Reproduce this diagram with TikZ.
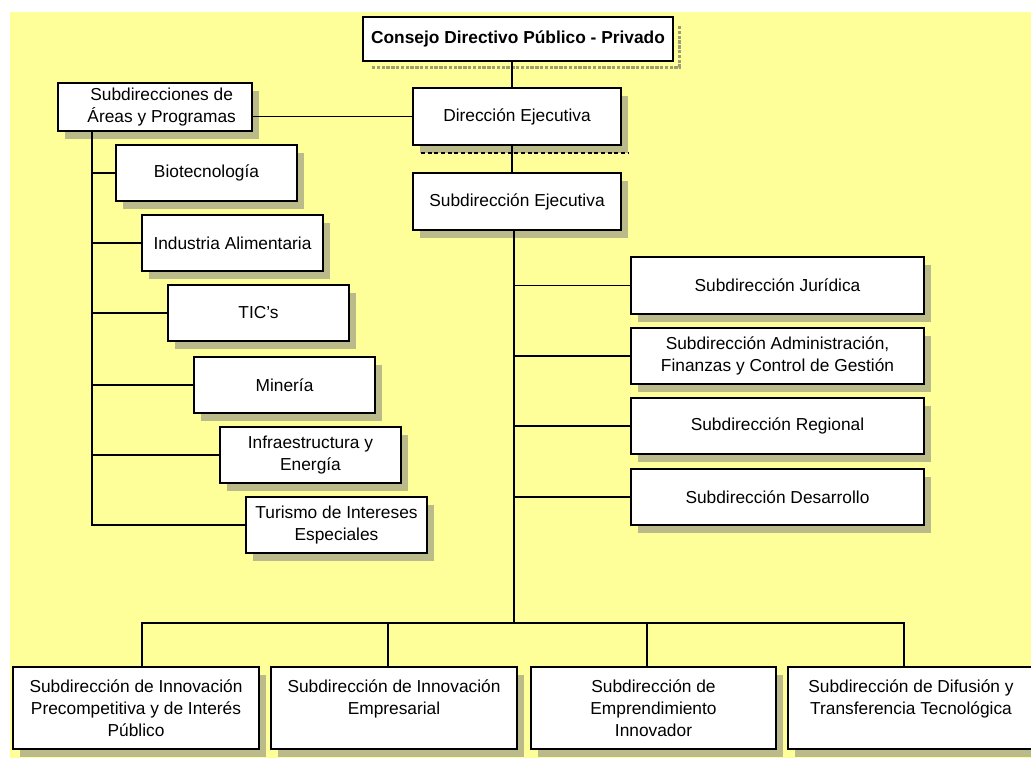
\documentclass[tikz,border=0pt]{standalone}
\usepackage{fontspec}
\setmainfont{Liberation Sans}
\usetikzlibrary{shadows}
\definecolor{bgyellow}{RGB}{255,255,153}
\definecolor{shadegray}{RGB}{186,186,138}
% \orgbox{name}{left}{top}{right}{bottom}{style}{text}
\newcommand\orgbox[7]{%
  \node[#6,minimum width={(#4-#2)*0.75pt},minimum height={(#5-#3)*0.75pt}]
    (#1) at ({(#2+#4)/2},{(#3+#5)/2}) {#7};}
\begin{document}
\begin{tikzpicture}[x=0.75pt,y=-0.75pt,
  every node/.style={font=\fontsize{13}{16.5}\selectfont},
  box/.style={draw=black,line width=0.8pt,fill=white,inner sep=0pt,align=center,
    general shadow={fill=shadegray,shadow xshift=5.25pt,shadow yshift=-6pt}},
  plainbox/.style={draw=black,line width=2.2pt,fill=white,inner sep=0pt,align=center,
    font=\fontsize{13}{16.5}\selectfont\bfseries},
  link/.style={line width=1.1pt,line cap=rect}]
\clip (0,0) rectangle (1031,758);
\fill[white] (0,0) rectangle (1031,758);
\fill[bgyellow] (10,12) rectangle (1031,758);

% top of the hierarchy
\draw[shadegray!85!black,line width=2.6pt,densely dotted] (372,67.5) -- (679.5,67.5) -- (679.5,26);
\orgbox{cons}{363}{17}{673}{61}{plainbox}{Consejo Directivo Público - Privado}
\orgbox{dir}{413}{88}{621}{145}{box}{Dirección Ejecutiva}
\draw[densely dashed,line width=0.8pt] (421,153) -- (628,153);
\orgbox{subej}{413}{173}{621}{230}{box}{Subdirección Ejecutiva}

% areas and programmes
\orgbox{areas}{58}{83}{252}{131}{box}{\hspace*{10pt}Subdirecciones de\\\hspace*{10pt}Áreas y Programas}
\orgbox{bio}{116}{145}{297}{201}{box}{Biotecnología}
\orgbox{ind}{142}{215}{323}{271}{box}{Industria Alimentaria}
\orgbox{tic}{168}{285}{349}{341}{box}{TIC's}
\orgbox{min}{194}{357}{375}{413}{box}{Minería}
\orgbox{inf}{220}{427}{401}{483}{box}{Infraestructura y\\Energía}
\orgbox{tur}{246}{497}{427}{553}{box}{Turismo de Intereses\\Especiales}

% support units
\orgbox{jur}{631}{257}{924}{314}{box}{Subdirección Jurídica}
\orgbox{adm}{631}{328}{924}{384}{box}{Subdirección Administración,\\Finanzas y Control de Gestión}
\orgbox{reg}{631}{398}{924}{454}{box}{Subdirección Regional}
\orgbox{des}{631}{469}{924}{525}{box}{Subdirección Desarrollo}

% operational units
\orgbox{bA}{13}{667}{259}{749}{box}{Subdirección de Innovación\\Precompetitiva y de Interés\\Público}
\orgbox{bB}{271}{667}{517}{749}{box}{Subdirección de Innovación\\Empresarial\\\vphantom{P}}
\orgbox{bC}{531}{667}{776}{749}{box}{Subdirección de\\Emprendimiento\\Innovador}
\orgbox{bD}{788}{667}{1034}{749}{box}{Subdirección de Difusión y\\Transferencia Tecnológica\\\vphantom{P}}

% spines and bus
\coordinate (top) at (512,0);
\coordinate (lsp) at (92,0);
\coordinate (rsp) at (514,0);
\coordinate (d1) at (142,623);
\coordinate (d2) at (388,623);
\coordinate (d3) at (647,623);
\coordinate (d4) at (904,623);

\draw[link] (top |- cons.south) -- (top |- dir.north);
\draw[link] (top |- dir.south) -- (top |- subej.north);
\draw[link] (dir.west) -- (dir.west -| areas.east);
\draw[link] (lsp |- areas.south) -- (lsp |- tur.west);
\foreach \n in {bio,ind,tic,min,inf,tur}
  \draw[link] (lsp |- \n.west) -- (\n.west);
\draw[link] (rsp |- subej.south) -- (rsp |- d1);
\foreach \n in {jur,adm,reg,des}
  \draw[link] (rsp |- \n.west) -- (\n.west);
\draw[link] (d1) -- (d4);
\draw[link] (d1) -- (d1 |- bA.north);
\draw[link] (d2) -- (d2 |- bB.north);
\draw[link] (d3) -- (d3 |- bC.north);
\draw[link] (d4) -- (d4 |- bD.north);
\end{tikzpicture}
\end{document}
